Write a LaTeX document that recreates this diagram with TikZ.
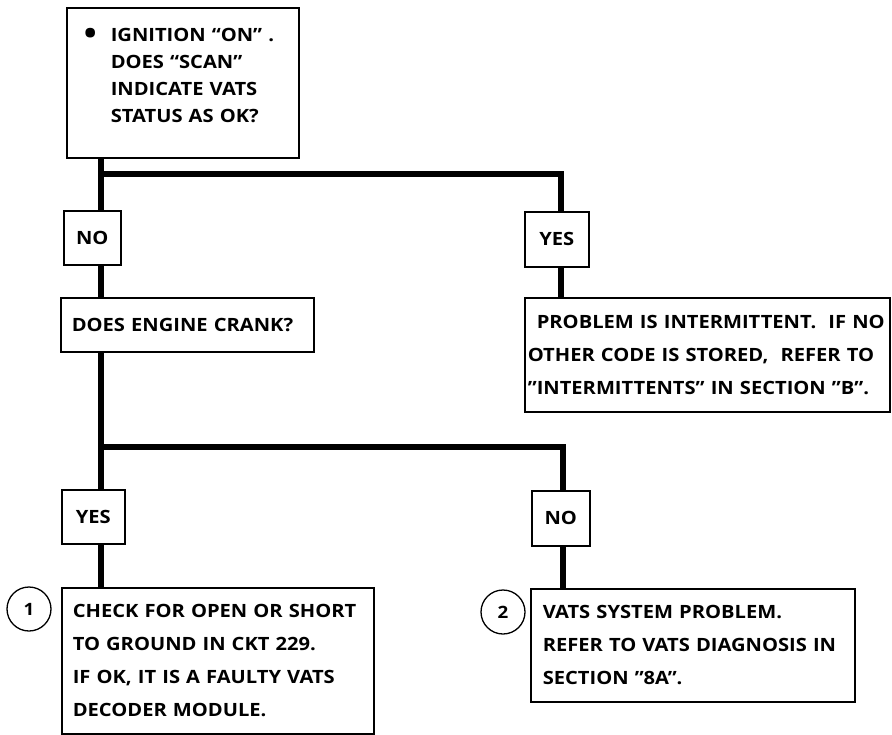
\documentclass[tikz,border=0pt]{standalone}
\usepackage{fontspec}
\setmainfont{Open Sans}[FakeStretch=1.1]
\usetikzlibrary{positioning,calc}

\begin{document}
\begin{tikzpicture}[x=1pt,y=-1pt,line join=miter,
    box/.style={draw,line width=1.6pt,anchor=north west,inner ysep=0pt,align=left,font=\bfseries\fontsize{18.3}{33}\selectfont},
    tag/.style={draw,line width=1.6pt,anchor=north west,inner sep=0pt,font=\bfseries\fontsize{18.3}{20}\selectfont},
    flow/.style={line width=6.5pt},
    num/.style={draw,circle,line width=1.3pt,inner sep=0pt,minimum size=44pt,font=\fontsize{17}{17}\selectfont\bfseries}]

  \useasboundingbox (0,0) rectangle (892,734);

  % trunk and branch points
  \coordinate (tk) at (101,0);
  \coordinate (jA) at (561,174);
  \coordinate (jB) at (563,447);

  \node[box,inner xsep=17pt,text width=198pt,minimum height=150pt,text depth=96pt,font=\bfseries\fontsize{18.3}{27}\selectfont] (top) at (66,7)
    {\makebox[27pt][l]{\raisebox{-3.5pt}{\scalebox{1.7}{\textbullet}}}IGNITION “ON” .\\
     \hspace*{27pt}DOES “SCAN”\\
     \hspace*{27pt}INDICATE VATS\\
     \hspace*{27pt}STATUS AS OK?};

  \node[tag,minimum width=57pt,minimum height=54pt] (no1) at (63,210) {NO};
  \node[tag,minimum width=64pt,minimum height=55pt] (yes1) at (524,211) {YES};

  \node[box,inner xsep=11pt,text width=231pt,minimum height=54pt] (crank) at (60,297) {DOES ENGINE CRANK?};
  \node[box,inner xsep=3pt,text width=359pt,minimum height=114pt] (intm) at (524,297)
    {\hspace*{9pt}PROBLEM IS INTERMITTENT.\ \ IF NO\\
     OTHER CODE IS STORED,\ \ REFER TO\\
     ”INTERMITTENTS” IN SECTION ”B”.};

  \node[tag,minimum width=63pt,minimum height=54pt] (yes2) at (61,489) {YES};
  \node[tag,minimum width=58pt,minimum height=55pt] (no2) at (531,490) {NO};

  \node[box,inner xsep=11pt,text width=290pt,minimum height=146pt] (check) at (61,587)
    {CHECK FOR OPEN OR SHORT\\
     TO GROUND IN CKT 229.\\
     IF OK, IT IS A FAULTY VATS\\
     DECODER MODULE.};
  \node[box,inner xsep=12pt,text width=300pt,minimum height=113pt] (vats) at (530,588)
    {VATS SYSTEM PROBLEM.\\
     REFER TO VATS DIAGNOSIS IN\\
     SECTION ”8A”.};

  \node[num] (n1) at (29,609) {1};
  \node[num] (n2) at (503,612) {2};

  % flow lines
  \draw[flow] (top.south -| tk) -- (no1.north -| tk);
  \draw[flow] (jA -| tk) -- (jA) -- (yes1.north -| jA);
  \draw[flow] (yes1.south -| jA) -- (intm.north -| jA);
  \draw[flow] (no1.south -| tk) -- (crank.north -| tk);
  \draw[flow] (crank.south -| tk) -- (yes2.north -| tk);
  \draw[flow] (jB -| tk) -- (jB) -- (no2.north -| jB);
  \draw[flow] (yes2.south -| tk) -- (check.north -| tk);
  \draw[flow] (no2.south -| jB) -- (vats.north -| jB);
\end{tikzpicture}
\end{document}
